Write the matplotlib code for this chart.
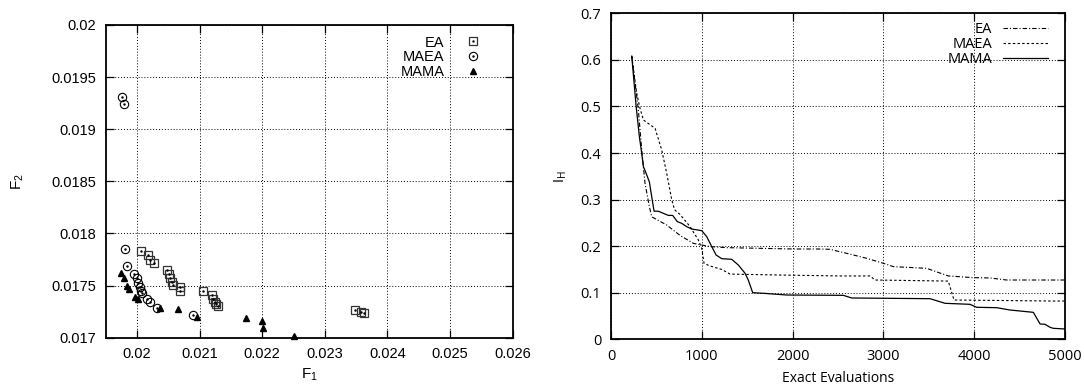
import matplotlib
matplotlib.use("Agg")
import matplotlib.pyplot as plt

plt.rcParams["mathtext.default"] = "regular"

# Pareto front approximations (F1, F2)
EA_F1 = [0.020065, 0.020175, 0.020202, 0.020268, 0.020487, 0.020504, 0.020531,
         0.020559, 0.020570, 0.020679, 0.020690, 0.021047, 0.021190, 0.021211,
         0.021239, 0.021266, 0.021294, 0.023477, 0.023576, 0.023631]
EA_F2 = [0.017835, 0.017793, 0.017745, 0.017713, 0.017649, 0.017611, 0.017576,
         0.017538, 0.017506, 0.017483, 0.017451, 0.017448, 0.017413, 0.017374,
         0.017345, 0.017323, 0.017307, 0.017265, 0.017249, 0.017233]

MAEA_F1 = [0.019758, 0.019785, 0.019802, 0.019835, 0.019955, 0.019994, 0.020021,
           0.020043, 0.020060, 0.020076, 0.020158, 0.020202, 0.020323, 0.020899]
MAEA_F2 = [0.019312, 0.019239, 0.017854, 0.017691, 0.017608, 0.017569, 0.017521,
           0.017483, 0.017451, 0.017425, 0.017371, 0.017339, 0.017281, 0.017221]

MAMA_F1 = [0.019747, 0.019785, 0.019846, 0.019873, 0.019966, 0.020021, 0.020361,
           0.020657, 0.020965, 0.021738, 0.021996, 0.022007, 0.022501]
MAMA_F2 = [0.017617, 0.017576, 0.017496, 0.017464, 0.017393, 0.017368, 0.017281,
           0.017272, 0.017195, 0.017186, 0.017160, 0.017090, 0.017016]

# hypervolume indicator vs. exact evaluations
EA_X = [228, 301, 338, 374, 422, 448, 613, 760, 907, 999, 1090, 1274, 2008,
        2302, 2412, 2595, 2816, 2999, 3109, 3476, 3714, 3990, 4174, 4357, 5000]
EA_Y = [0.608, 0.492, 0.4065, 0.335, 0.285, 0.263, 0.2454, 0.2230, 0.206,
        0.2025, 0.199, 0.1968, 0.1939, 0.1939, 0.1932, 0.1846, 0.1739, 0.1632,
        0.156, 0.1524, 0.136, 0.1324, 0.1317, 0.1273, 0.1273]

MAEA_X = [228, 283, 319, 356, 485, 558, 613, 668, 700, 760, 870, 962, 999,
          1024, 1090, 1219, 1311, 1861, 2522, 2852, 2907, 3714, 3777, 4835, 5000]
MAEA_Y = [0.608, 0.528, 0.496, 0.471, 0.453, 0.4065, 0.3565, 0.30, 0.278,
          0.268, 0.242, 0.213, 0.195, 0.163, 0.1574, 0.150, 0.140, 0.138, 0.136,
          0.136, 0.1273, 0.125, 0.0844, 0.0822, 0.0822]

MAMA_X = [228, 275, 312, 338, 356, 393, 422, 448, 474, 521, 576, 631, 679, 730,
          778, 833, 888, 999, 1054, 1109, 1157, 1219, 1329, 1402, 1476, 1512,
          1560, 1677, 1935, 2559, 2650, 3513, 3678, 3953, 4027, 4247, 4394,
          4651, 4725, 4780, 4835, 4871, 5000]
MAMA_Y = [0.608, 0.503, 0.435, 0.399, 0.371, 0.353, 0.338, 0.306, 0.275, 0.275,
          0.2705, 0.266, 0.266, 0.2526, 0.249, 0.2419, 0.2368, 0.2333, 0.2204,
          0.199, 0.181, 0.1731, 0.1717, 0.1595, 0.1417, 0.127, 0.1001, 0.0988,
          0.0951, 0.0944, 0.0887, 0.0872, 0.0773, 0.0751, 0.0687, 0.0679,
          0.0629, 0.0579, 0.0329, 0.0322, 0.0257, 0.0236, 0.0221]

GRID = dict(color="black", linestyle=(0, (1, 2)), linewidth=0.7)


def style_axes(ax):
    for s in ax.spines.values():
        s.set_linewidth(1.3)
    ax.tick_params(direction="in", length=6, width=0.9, top=True, right=True)
    ax.grid(True, **GRID)
    ax.set_axisbelow(True)


fig = plt.figure(figsize=(10.84, 3.85), dpi=100)

# left: objective space
ax1 = fig.add_axes([0.0975, 0.1229, 0.3755, 0.8122])
lf = "Liberation Sans"
sq, = ax1.plot(EA_F1, EA_F2, ls="none", marker="s", ms=6.2, mfc="none",
               mec="#333333", mew=0.9)
sqd, = ax1.plot(EA_F1, EA_F2, ls="none", marker=".", ms=1.5, color="black")
ci, = ax1.plot(MAEA_F1, MAEA_F2, ls="none", marker="o", ms=6, mfc="none",
               mec="black", mew=0.8)
cid, = ax1.plot(MAEA_F1, MAEA_F2, ls="none", marker=".", ms=1.5, color="black")
tr, = ax1.plot(MAMA_F1, MAMA_F2, ls="none", marker="^", ms=5, color="black",
               clip_on=False)
ax1.set_xlim(0.0195, 0.026)
ax1.set_ylim(0.017, 0.020)
ax1.set_xticks([0.020, 0.021, 0.022, 0.023, 0.024, 0.025, 0.026])
ax1.set_xticklabels(["0.02", "0.021", "0.022", "0.023", "0.024", "0.025", "0.026"],
                    family=lf, fontsize=10.5)
ax1.set_yticks([0.017, 0.0175, 0.018, 0.0185, 0.019, 0.0195, 0.020])
ax1.set_yticklabels(["0.017", "0.0175", "0.018", "0.0185", "0.019", "0.0195", "0.02"],
                    family=lf, fontsize=10.5)
style_axes(ax1)
ax1.tick_params(axis="x", pad=7)
ax1.tick_params(axis="y", pad=7)
ax1.set_xlabel("F$_1$", family=lf, fontsize=11, labelpad=4)
ax1.set_ylabel("F$_2$", family=lf, fontsize=11, labelpad=18)
ax1.legend([(sq, sqd), (ci, cid), tr], ["EA", "MAEA", "MAMA"],
           loc="upper right", markerfirst=False, frameon=False,
           prop={"family": lf, "size": 10.5}, handlelength=1.5,
           labelspacing=0.05, handletextpad=1.2,
           bbox_to_anchor=(0.943, 0.985), borderaxespad=0)

# right: indicator history
ax2 = fig.add_axes([0.5637, 0.1187, 0.4188, 0.8468])
rf = "Open Sans"
ax2.plot(EA_X, EA_Y, color="black", lw=0.8, ls=(0, (4, 1.8, 1, 1.8)), label="EA")
ax2.plot(MAEA_X, MAEA_Y, color="black", lw=0.8, ls=(0, (2.2, 2)), label="MAEA")
ax2.plot(MAMA_X, MAMA_Y, color="black", lw=0.9, ls="-", label="MAMA")
ax2.set_xlim(0, 5000)
ax2.set_ylim(0, 0.7)
ax2.set_xticks([0, 1000, 2000, 3000, 4000, 5000])
ax2.set_xticklabels(["0", "1000", "2000", "3000", "4000", "5000"],
                    family=rf, fontsize=10.5)
ax2.set_yticks([0, 0.1, 0.2, 0.3, 0.4, 0.5, 0.6, 0.7])
ax2.set_yticklabels(["0", "0.1", "0.2", "0.3", "0.4", "0.5", "0.6", "0.7"],
                    family=rf, fontsize=10.5)
style_axes(ax2)
ax2.tick_params(axis="x", pad=7)
ax2.tick_params(axis="y", pad=7)
ax2.set_xlabel("Exact Evaluations", family=rf, fontsize=10, labelpad=5)
ax2.set_ylabel("I$_H$", family=rf, fontsize=10.5, labelpad=8)
ax2.legend(loc="upper right", markerfirst=False, frameon=False,
           prop={"family": rf, "size": 10.5}, handlelength=3.1,
           labelspacing=0.0, handletextpad=0.7,
           bbox_to_anchor=(0.975, 0.99), borderaxespad=0)

fig.savefig("out.png", dpi=100)
